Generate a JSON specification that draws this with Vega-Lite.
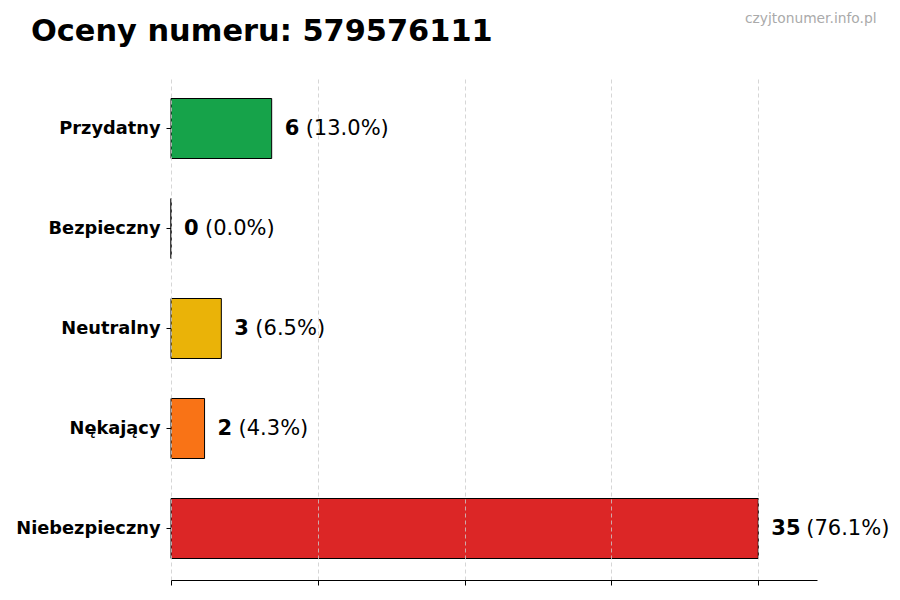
{
  "$schema": "https://vega.github.io/schema/vega-lite/v6.json",
  "width": 646,
  "height": 503,
  "autosize": {"type": "none"},
  "padding": {"left": 171, "top": 77, "right": 83, "bottom": 20},
  "background": "white",
  "title": {
    "text": "Oceny numeru: 579576111",
    "anchor": "start",
    "frame": "group",
    "dx": -140,
    "offset": -60,
    "baseline": "alphabetic",
    "font": "DejaVu Sans",
    "fontSize": 30.4,
    "fontWeight": "bold",
    "color": "black"
  },
  "config": {
    "view": {"stroke": null},
    "font": "DejaVu Sans"
  },
  "data": {
    "values": [
      {"kategoria": "Przydatny", "liczba": 6, "procent": "(13.0%)"},
      {"kategoria": "Bezpieczny", "liczba": 0, "procent": "(0.0%)"},
      {"kategoria": "Neutralny", "liczba": 3, "procent": "(6.5%)"},
      {"kategoria": "Nękający", "liczba": 2, "procent": "(4.3%)"},
      {"kategoria": "Niebezpieczny", "liczba": 35, "procent": "(76.1%)"}
    ]
  },
  "encoding": {
    "y": {
      "field": "kategoria",
      "type": "nominal",
      "sort": null,
      "scale": {"paddingInner": 0.4, "paddingOuter": 0.215},
      "axis": {
        "title": "czyjtonumer.info.pl",
        "titleAngle": 0,
        "titleX": 705,
        "titleY": -55,
        "titleAlign": "right",
        "titleBaseline": "alphabetic",
        "titleFont": "DejaVu Sans",
        "titleFontSize": 13.8,
        "titleFontWeight": "normal",
        "titleColor": "#aaaaaa",
        "domain": false,
        "ticks": true,
        "tickColor": "black",
        "tickSize": 5,
        "labelFont": "DejaVu Sans",
        "labelFontSize": 17.8,
        "labelFontWeight": "bold",
        "labelColor": "black",
        "labelPadding": 6
      }
    }
  },
  "layer": [
    {
      "mark": {"type": "bar", "stroke": "black", "strokeWidth": 1},
      "encoding": {
        "x": {
          "field": "liczba",
          "type": "quantitative",
          "scale": {"domain": [0, 38.5], "nice": false, "zero": true},
          "axis": {
            "values": [0, 8.75, 17.5, 26.25, 35],
            "labels": false,
            "title": null,
            "domainColor": "black",
            "tickColor": "black",
            "tickSize": 5,
            "grid": true,
            "gridColor": "#cccccc",
            "gridDash": [4, 3],
            "gridWidth": 0.8,
            "zindex": 1
          }
        },
        "color": {
          "field": "kategoria",
          "type": "nominal",
          "scale": {
            "domain": ["Przydatny", "Bezpieczny", "Neutralny", "Nękający", "Niebezpieczny"],
            "range": ["#16a34a", "#2563eb", "#eab308", "#f97316", "#dc2626"]
          },
          "legend": null
        }
      }
    },
    {
      "mark": {"type": "text", "align": "left", "baseline": "middle", "dx": 13, "fontSize": 21, "fontWeight": "bold", "color": "black"},
      "encoding": {
        "x": {"field": "liczba", "type": "quantitative"},
        "text": {"field": "liczba", "type": "quantitative"}
      }
    },
    {
      "transform": [{"filter": "datum.liczba < 10"}],
      "mark": {"type": "text", "align": "left", "baseline": "middle", "dx": 34, "fontSize": 21, "color": "black"},
      "encoding": {
        "x": {"field": "liczba", "type": "quantitative"},
        "text": {"field": "procent", "type": "nominal"}
      }
    },
    {
      "transform": [{"filter": "datum.liczba >= 10"}],
      "mark": {"type": "text", "align": "left", "baseline": "middle", "dx": 48, "fontSize": 21, "color": "black"},
      "encoding": {
        "x": {"field": "liczba", "type": "quantitative"},
        "text": {"field": "procent", "type": "nominal"}
      }
    }
  ]
}
